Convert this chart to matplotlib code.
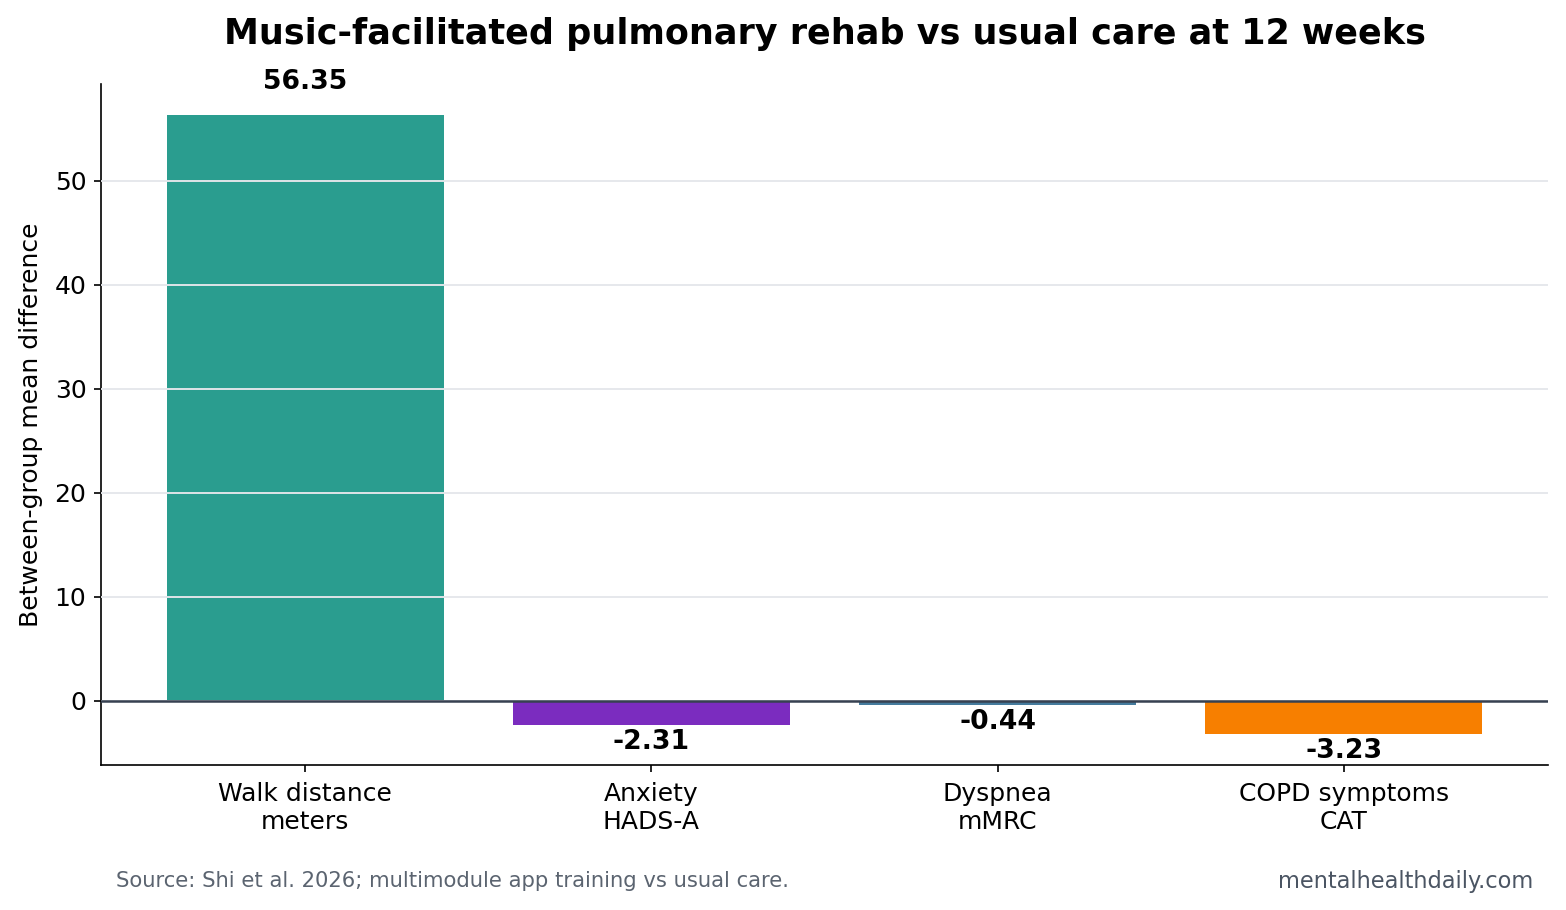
import matplotlib.pyplot as plt

# chart data
categories = ["Walk distance\nmeters", "Anxiety\nHADS-A", "Dyspnea\nmMRC", "COPD symptoms\nCAT"]
values = [56.35, -2.31, -0.44, -3.23]
colors = ["#2a9d8f", "#7b2cbf", "#457b9d", "#f77f00"]

fig = plt.figure(figsize=(10.44, 6.067), dpi=150)
ax = fig.add_axes([0.0645, 0.1593, 0.924, 0.7484])

bars = ax.bar(range(len(values)), values, width=0.8, color=colors)
ax.set_xticks(range(len(values)))
ax.set_xticklabels(categories, fontsize=12)
ax.tick_params(axis="x", pad=4.8)
ax.tick_params(axis="y", labelsize=12)
ax.set_ylabel("Between-group mean difference", fontsize=12, labelpad=5.5)

ax.yaxis.grid(True, color="#e5e7eb", linewidth=0.9)
ax.set_axisbelow(False)
ax.axhline(0, color="#374151", linewidth=1.2, zorder=3)
for s in ["top", "right"]:
    ax.spines[s].set_visible(False)

for b, v in zip(bars, values):
    x = b.get_x() + b.get_width() / 2
    if v >= 0:
        ax.annotate(f"{v:.2f}", (x, v), xytext=(0, 9.5), textcoords="offset points",
                    ha="center", va="bottom", fontsize=12.8, fontweight="bold")
    else:
        ax.annotate(f"{v:.2f}", (x, v), xytext=(0, -2), textcoords="offset points",
                    ha="center", va="top", fontsize=12.8, fontweight="bold")

fig.text(0.5265, 0.9626, "Music-facilitated pulmonary rehab vs usual care at 12 weeks",
         fontsize=16.8, fontweight="bold", ha="center", va="center")
fig.text(0.074, 0.0319, "Source: Shi et al. 2026; multimodule app training vs usual care.",
         fontsize=10.15, color="#5b6470", va="center")
fig.text(0.979, 0.0319, "mentalhealthdaily.com", fontsize=10.8, color="#4b5563",
         ha="right", va="center")

fig.savefig("out.png", dpi=150)
